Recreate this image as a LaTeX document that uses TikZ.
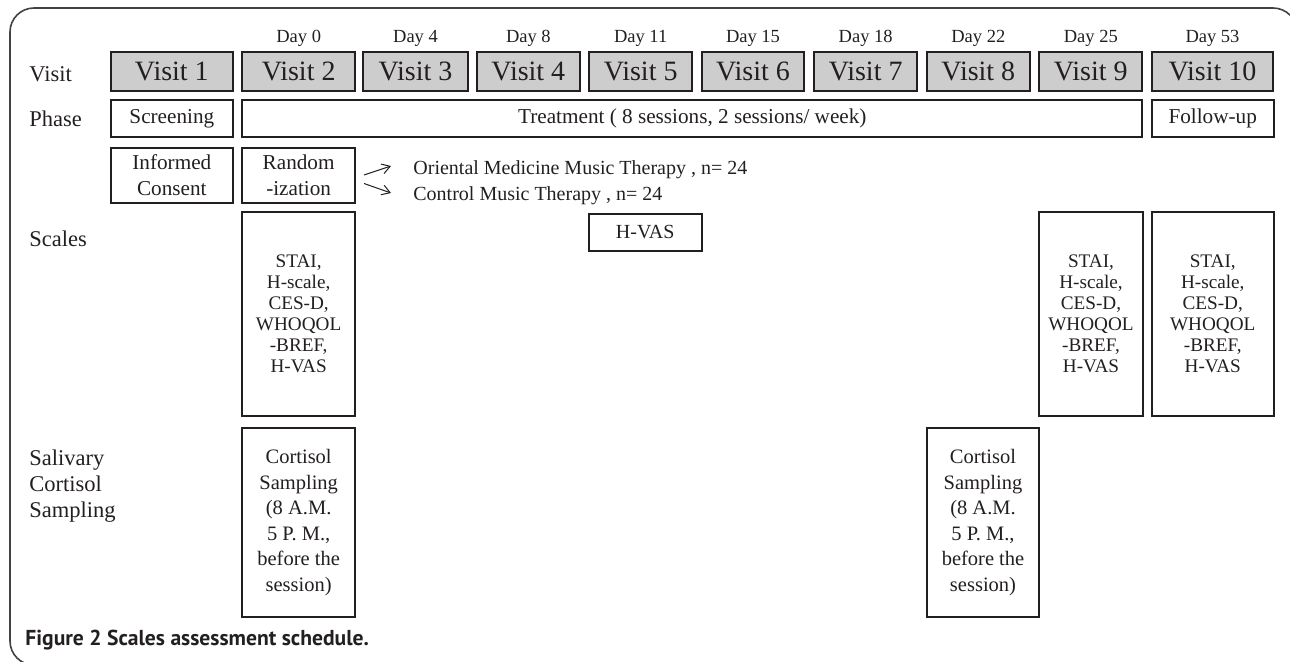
\documentclass[tikz,border=0pt]{standalone}
\usepackage{fontspec}
\setmainfont{Liberation Serif}
\newfontfamily\peufont{PT Sans}
\usetikzlibrary{arrows.meta}
\definecolor{tinta}{RGB}{35,31,32}
\definecolor{grisvisita}{RGB}{205,205,205}

\begin{document}
\begin{tikzpicture}[x=0.5pt, y=-0.5pt,
	every node/.style={text=tinta, inner sep=0pt},
	caixa/.style={draw=tinta, line width=1pt, align=center},
	visita/.style={caixa, fill=grisvisita, minimum height=19.25pt, font=\fontsize{14}{16}\selectfont},
	fase/.style={caixa, minimum height=18.25pt, font=\fontsize{10.6}{13}\selectfont},
	inici/.style={caixa, minimum height=27.5pt, font=\fontsize{10.6}{13}\selectfont},
	escala/.style={caixa, minimum height=102pt, font=\fontsize{9.6}{10.5}\selectfont},
	cortisol/.style={caixa, minimum height=94pt, font=\fontsize{10.25}{12.8}\selectfont},
	dia/.style={anchor=base, font=\fontsize{9.25}{11}\selectfont},
	etiqueta/.style={align=left, font=\fontsize{11.25}{13}\selectfont},
	grup/.style={anchor=base west, font=\fontsize{10}{12}\selectfont},
	fletxa/.style={draw=tinta, line width=0.5pt, -{Straight Barb[length=4pt, width=5pt]}},
	marc/.style={draw=tinta!85, line width=0.8pt, rounded corners=12}]
	\useasboundingbox (0,0) rectangle (1290,662);
	\clip (0,0) rectangle (1290,662);
	%Marc
	\draw[marc] (1297,80) -- (1297,8) -- (10,8) -- (10,665) -- (80,665);
	%Etiquetes
	\node[etiqueta, anchor=base west] (lvisita) at (29,81.7) {Visit};
	\node[etiqueta, anchor=base west] (lfase) at (29,126.7) {Phase};
	\node[etiqueta, anchor=base west] (lescala) at (29,247) {Scales};
	\node[etiqueta, anchor=north west] (lsaliva) at (29,449.5) {Salivary\\Cortisol\\Sampling};
	%Visites
	\node[visita, minimum width=60.85pt] (v1) at (171.85,71.75) {Visit 1};
	\node[visita, minimum width=56.35pt] (v2) at (298.65,71.75) {Visit 2};
	\node[visita, minimum width=52.2pt] (v3) at (415.5,71.75) {Visit 3};
	\node[visita, minimum width=51.65pt] (v4) at (528.35,71.75) {Visit 4};
	\node[visita, minimum width=51.65pt] (v5) at (640.65,71.75) {Visit 5};
	\node[visita, minimum width=51.3pt] (v6) at (753,71.75) {Visit 6};
	\node[visita, minimum width=51.65pt] (v7) at (865.65,71.75) {Visit 7};
	\node[visita, minimum width=51.65pt] (v8) at (978.35,71.75) {Visit 8};
	\node[visita, minimum width=51.5pt] (v9) at (1090.8,71.75) {Visit 9};
	\node[visita, minimum width=60.8pt] (v10) at (1212.5,71.75) {Visit 10};
	%Dies
	\node[dia] (d2) at (298.65,42.5) {Day 0};
	\node[dia] (d3) at (415.5,42.5) {Day 4};
	\node[dia] (d4) at (528.35,42.5) {Day 8};
	\node[dia] (d5) at (640.65,42.5) {Day 11};
	\node[dia] (d6) at (753,42.5) {Day 15};
	\node[dia] (d7) at (865.65,42.5) {Day 18};
	\node[dia] (d8) at (978.35,42.5) {Day 22};
	\node[dia] (d9) at (1090.8,42.5) {Day 25};
	\node[dia] (d10) at (1212.5,42.5) {Day 53};
	%Fases
	\node[fase, minimum width=60.85pt] (cribratge) at (171.85,118.75) {Screening};
	\node[fase, minimum width=450pt] (tractament) at (692.3,118.75) {Treatment ( 8 sessions, 2 sessions/ week)};
	\node[fase, minimum width=61pt] (seguiment) at (1212.7,118.75) {Follow-up};
	%Consentiment i aleatoritzacio
	\node[inici, minimum width=60.85pt] (consent) at (171.85,175.2) {Informed\\Consent};
	\node[inici, minimum width=56.35pt] (random) at (298.65,175.2) {Random\\-ization};
	\coordinate (f1a) at (364,175);
	\coordinate (f1b) at (391,166);
	\coordinate (f2a) at (364,183.5);
	\coordinate (f2b) at (391,193);
	\draw[fletxa] (f1a) -- (f1b);
	\draw[fletxa] (f2a) -- (f2b);
	\node[grup] (oriental) at (413,175) {Oriental Medicine Music Therapy , n= 24};
	\node[grup] (control) at (413,201) {Control Music Therapy , n= 24};
	%Escales
	\node[escala, minimum width=56.35pt] (e2) at (298.65,314) {STAI,\\ H-scale,\\CES-D,\\WHOQOL\\-BREF,\\H-VAS};
	\node[caixa, minimum width=56.25pt, minimum height=18.5pt, font=\fontsize{10}{12}\selectfont] (hvas) at (645.25,232.5) {H-VAS};
	\node[escala, minimum width=52pt] (e9) at (1091,314) {STAI,\\H-scale,\\CES-D,\\WHOQOL\\-BREF,\\H-VAS};
	\node[escala, minimum width=60.75pt] (e10) at (1212.75,314) {STAI,\\H-scale,\\CES-D,\\WHOQOL\\-BREF,\\H-VAS};
	%Cortisol
	\node[cortisol, minimum width=56.35pt] (c2) at (298.65,522.5) {Cortisol\\Sampling\\(8 A.M.\\5 P. M.,\\before the\\session)};
	\node[cortisol, minimum width=56.3pt] (c8) at (983,522.5) {Cortisol\\Sampling\\(8 A.M.\\5 P. M.,\\before the\\session)};
	%Peu
	\node[anchor=base west, font=\peufont\bfseries\fontsize{10.8}{13}\selectfont] (peu) at (25,645) {Figure 2 Scales assessment schedule.};
\end{tikzpicture}
\end{document}
